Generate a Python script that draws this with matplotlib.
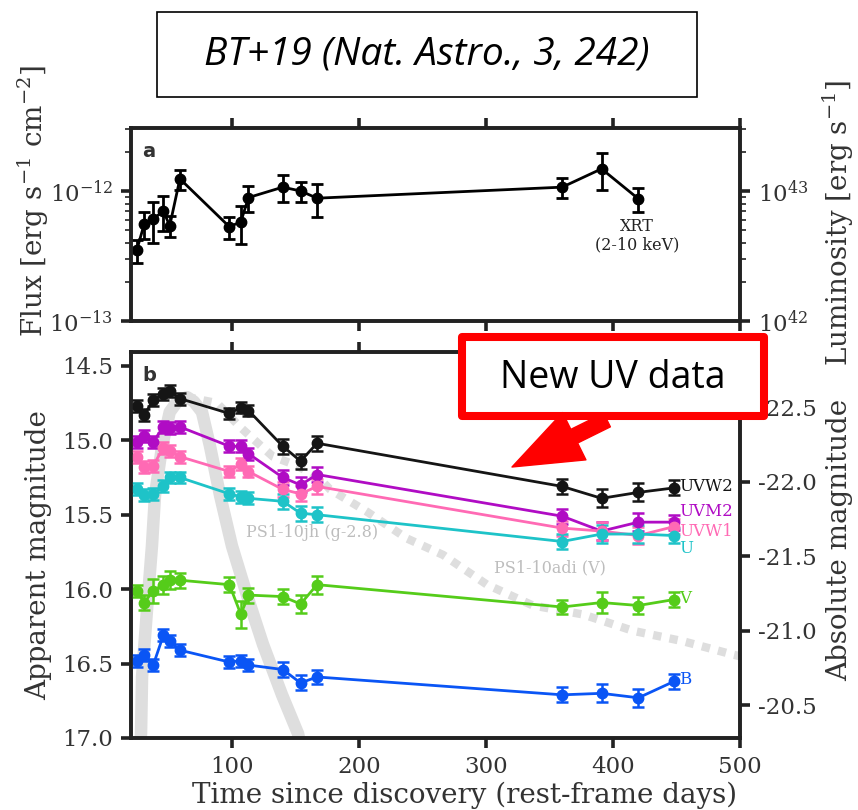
import numpy as np
import matplotlib.pyplot as plt
from matplotlib.patches import Rectangle, FancyArrowPatch
from matplotlib.transforms import IdentityTransform
from matplotlib.ticker import FormatStrFormatter, NullLocator, FixedLocator

plt.rcParams['font.family'] = 'DejaVu Serif'
plt.rcParams['mathtext.fontset'] = 'dejavuserif'
plt.rcParams['axes.unicode_minus'] = False

# epochs (rest-frame days since discovery)
days = [25, 31, 38, 46, 51, 59, 98, 107, 113, 140, 154, 167, 360, 391, 420, 448]

# XRT 2-10 keV flux (erg/s/cm2), first 15 epochs
xrt_flux = [3.5e-13, 5.6e-13, 6.1e-13, 7.0e-13, 5.4e-13, 1.24e-12, 5.3e-13, 5.8e-13,
            8.9e-13, 1.07e-12, 1.0e-12, 8.8e-13, 1.07e-12, 1.48e-12, 8.7e-13]
xrt_err = [0.7e-13, 1.3e-13, 2.1e-13, 2.1e-13, 1.0e-13, 2.2e-13, 1.0e-13, 1.9e-13,
           2.0e-13, 2.5e-13, 1.8e-13, 2.5e-13, 1.9e-13, 4.7e-13, 1.8e-13]

# UVOT apparent magnitudes
uvw2 = [14.77, 14.83, 14.73, 14.69, 14.67, 14.72, 14.82, 14.78, 14.80, 15.04, 15.14, 15.02,
        15.31, 15.39, 15.35, 15.32]
uvm2 = [15.01, 14.97, 15.01, 14.91, 14.92, 14.91, 15.04, 15.04, 15.09, 15.25, 15.30, 15.23,
        15.51, 15.61, 15.55, 15.55]
uvw1 = [15.11, 15.18, 15.17, 15.05, 15.07, 15.11, 15.21, 15.16, 15.21, 15.33, 15.36, 15.31,
        15.59, 15.61, 15.64, 15.58]
u_mag = [15.33, 15.37, 15.36, 15.31, 15.25, 15.25, 15.36, 15.38, 15.39, 15.41, 15.49, 15.50,
         15.68, 15.63, 15.63, 15.64]
v_mag = [16.01, 16.09, 16.01, 15.97, 15.94, 15.94, 15.97, 16.17, 16.04, 16.05, 16.10, 15.97,
         16.12, 16.09, 16.11, 16.07]
b_mag = [16.48, 16.44, 16.51, 16.31, 16.35, 16.41, 16.49, 16.48, 16.51, 16.54, 16.63, 16.59,
         16.71, 16.70, 16.73, 16.62]

uv_err = [0.04, 0.04, 0.04, 0.04, 0.04, 0.04, 0.04, 0.04, 0.04, 0.05, 0.05, 0.05,
          0.05, 0.06, 0.06, 0.05]
v_err = [0.04, 0.05, 0.08, 0.06, 0.06, 0.05, 0.05, 0.09, 0.05, 0.05, 0.06, 0.06,
         0.05, 0.07, 0.06, 0.05]

band_names = ['UVW2', 'UVM2', 'UVW1', 'U', 'V', 'B']
band_colors = ['#151515', '#b00cc4', '#ff6ab4', '#1ec3c8', '#55cc1a', '#0a55f5']
band_label_mag = [15.31, 15.48, 15.61, 15.73, 16.06, 16.61]

# comparison light curves
jh_days = [27.5, 28.4, 29.2, 33, 37, 39.4, 45, 51, 57, 64.6, 70, 76.4, 82.7, 90.6, 100,
           111.8, 124.4, 139.4, 152, 154]
jh_mag = [17.1, 16.97, 16.59, 16.15, 15.71, 15.37, 15.04, 14.81, 14.74, 14.71, 14.74, 14.81,
          15.04, 15.37, 15.71, 16.04, 16.37, 16.71, 16.97, 17.05]
adi_days = [64.6, 88.2, 106.3, 116.6, 132.3, 151.2, 169.3, 177.2, 206.3, 237.8, 266.2,
            300.8, 337, 376.4, 415.8, 455.2, 494.5, 510]
adi_mag = [14.71, 14.75, 14.91, 14.99, 15.11, 15.17, 15.26, 15.33, 15.48, 15.66, 15.77,
           15.97, 16.11, 16.17, 16.28, 16.35, 16.44, 16.47]

dist_mod = 37.28
lum_factor = 1e55

spine_col = '#222222'
text_col = '#333333'
label_size = 20
tick_size = 16.5
serif = 'DejaVu Serif'

fig = plt.figure(figsize=(8.58, 8.10), dpi=100)
W, H = 858, 810


def style(ax):
    for s in ax.spines.values():
        s.set_linewidth(2.6)
        s.set_color(spine_col)
    ax.tick_params(which='major', direction='out', length=7, width=2.6, pad=6,
                   color=spine_col, labelcolor=text_col, labelsize=tick_size)
    ax.tick_params(which='minor', direction='out', length=4, width=1.2, color=spine_col)


# ---- panel a
ax1 = fig.add_axes([131 / W, 1 - 321 / H, 609 / W, 193 / H])
ax1.errorbar(days[:15], xrt_flux, yerr=xrt_err, color='black', marker='o', ms=7.5,
             lw=2, elinewidth=2, capsize=4, capthick=2)
ax1.set_yscale('log')
ax1.set_ylim(1e-13, 3.05e-12)
ax1.yaxis.set_major_locator(FixedLocator([1e-13, 1e-12]))
ax1.set_xlim(20.5, 500)
ax1.set_xticks([100, 200, 300, 400, 500])
style(ax1)
ax1.tick_params(axis='x', top=True, labelbottom=False)
ax1.set_ylabel(r'Flux [erg s$^{-1}$ cm$^{-2}$]', fontsize=label_size, color=text_col,
               va='center', family=serif)
ax1.yaxis.set_label_coords(-0.16, 0.62)
ax1.text(0.018, 0.93, 'a', transform=ax1.transAxes, fontsize=14, fontweight='bold',
         family='DejaVu Sans', color='#333333', va='top')
ax1.text(419, 4.5e-13, 'XRT\n(2-10 keV)', ha='center', va='center', fontsize=11.5,
         color='#222222', linespacing=1.1)

ax1r = ax1.twinx()
ax1r.set_yscale('log')
ax1r.set_ylim(1e-13 * lum_factor, 3.05e-12 * lum_factor)
ax1r.yaxis.set_major_locator(FixedLocator([1e42, 1e43]))
style(ax1r)
ax1r.set_ylabel(r'Luminosity [erg s$^{-1}$]', fontsize=label_size, color=text_col,
                va='center', family=serif)
ax1r.yaxis.set_label_coords(1.162, 0.51)

# ---- panel b
ax2 = fig.add_axes([131 / W, 1 - 738 / H, 609 / W, 386 / H])
ax2.plot(jh_days, jh_mag, color='#dedede', lw=9, solid_capstyle='butt',
         solid_joinstyle='round', zorder=1)
ax2.plot(adi_days, adi_mag, color='#dedede', lw=6, dashes=(1, 1), zorder=1)
ax2.text(163, 15.62, 'PS1-10jh (g-2.8)', color='#bdbdbd', fontsize=11.5,
         ha='center', va='center')
ax2.text(350, 15.86, 'PS1-10adi (V)', color='#bdbdbd', fontsize=11.5,
         ha='center', va='center')

band_mags = [uvw2, uvm2, uvw1, u_mag, v_mag, b_mag]
band_errs = [uv_err, uv_err, uv_err, uv_err, v_err, uv_err]
for mags, errs, col, name, ylab in zip(band_mags, band_errs, band_colors, band_names,
                                       band_label_mag):
    ax2.errorbar(days, mags, yerr=errs, color=col, marker='o', ms=7.5, lw=2,
                 elinewidth=1.8, capsize=4, capthick=1.8, zorder=3)
    ax2.text(452, ylab, name, color=col, fontsize=12, ha='left', va='center')

ax2.set_xlim(20.5, 500)
ax2.set_ylim(17.0, 14.407)
ax2.set_xticks([100, 200, 300, 400, 500])
ax2.set_yticks([14.5, 15.0, 15.5, 16.0, 16.5, 17.0])
ax2.yaxis.set_major_formatter(FormatStrFormatter('%.1f'))
style(ax2)
ax2.tick_params(axis='x', top=True)
ax2.set_xlabel('Time since discovery (rest-frame days)', fontsize=label_size,
               color=text_col, va='center', family=serif)
ax2.xaxis.set_label_coords(0.548, -0.148)
ax2.set_ylabel('Apparent magnitude', fontsize=label_size, color=text_col, va='center',
               family=serif)
ax2.yaxis.set_label_coords(-0.152, 0.474)
ax2.text(0.018, 0.965, 'b', transform=ax2.transAxes, fontsize=14, fontweight='bold',
         family='DejaVu Sans', color='#333333', va='top')

ax2r = ax2.twinx()
ax2r.set_ylim(17.0 - dist_mod, 14.407 - dist_mod)
ax2r.set_yticks([-22.5, -22.0, -21.5, -21.0, -20.5])
ax2r.yaxis.set_major_formatter(FormatStrFormatter('%.1f'))
ax2r.yaxis.set_minor_locator(NullLocator())
style(ax2r)
ax2r.set_ylabel('Absolute magnitude', fontsize=label_size, color=text_col, va='center',
                family=serif)
ax2r.yaxis.set_label_coords(1.163, 0.513)

# ---- annotations on top
fig.add_artist(Rectangle((157 / W, 1 - 97 / H), 540 / W, 85 / H, transform=fig.transFigure,
                         fill=False, edgecolor='black', lw=1.2))
fig.text(427 / W, 1 - 55 / H, 'BT+19 (Nat. Astro., 3, 242)', ha='center', va='center',
         fontsize=28, style='italic', family='Open Sans', color='black')

fig.add_artist(Rectangle((462 / W, 1 - 416 / H), 302 / W, 79 / H, transform=fig.transFigure,
                         facecolor='white', edgecolor='#ff0000', lw=5.8, joinstyle='round',
                         zorder=10))
fig.text(613 / W, 1 - 378 / H, 'New UV data', ha='center', va='center', fontsize=27,
         family='Open Sans', color='black', zorder=11)
arrow = FancyArrowPatch((607, H - 420), (512, H - 467), transform=IdentityTransform(),
                        arrowstyle='simple,head_length=2.5,head_width=1.9,tail_width=0.55',
                        mutation_scale=20, color='#ff0000', shrinkA=0, shrinkB=0,
                        zorder=10)
fig.add_artist(arrow)

fig.savefig('out.png', dpi=100, facecolor='white')
